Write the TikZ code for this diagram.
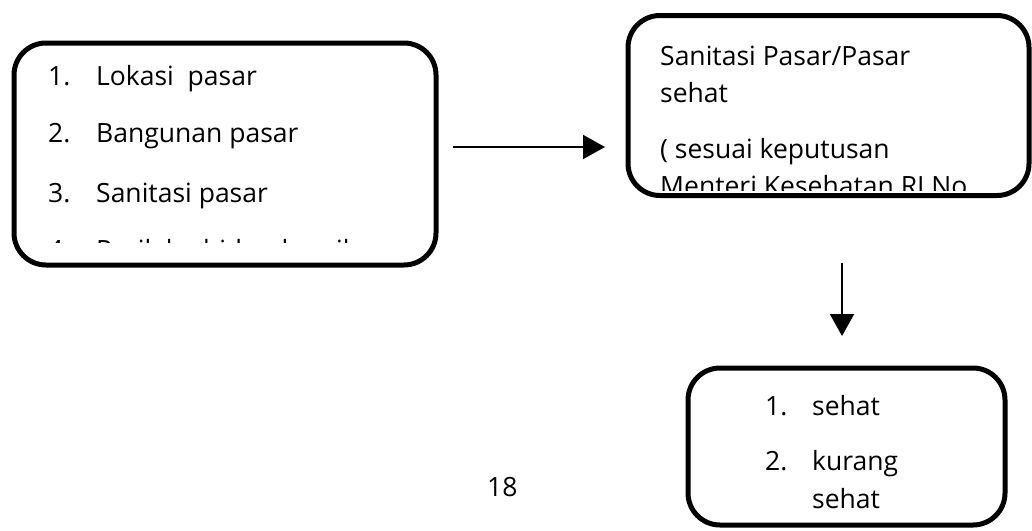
\documentclass[tikz,border=0pt]{standalone}
\usepackage{fontspec}
\setmainfont{Open Sans}
\usetikzlibrary{arrows.meta}
\begin{document}
\begin{tikzpicture}[x=1pt,y=-1pt,
  box/.style={draw, line width=5pt, rounded corners=32pt, inner sep=0pt},
  txt/.style={anchor=base west, inner sep=0pt, font=\fontsize{26.5}{30}\selectfont},
  arr/.style={line width=2pt, -{Triangle[length=22pt,width=24pt]}}]
\useasboundingbox (0,0) rectangle (1032,530);
% boxes
\node[box, minimum width=422pt, minimum height=222pt] (b1) at (225,154) {};
\node[box, minimum width=401pt, minimum height=180pt] (b2) at (828.5,105.5) {};
\node[box, minimum width=317pt, minimum height=157pt] (b3) at (846.5,446.5) {};
% box 1 text
\node[txt] (n11) at (48,85) {1.};
\node[txt] (t11) at (96,85) {Lokasi\ \ pasar};
\node[txt] (n12) at (48,142) {2.};
\node[txt] (t12) at (96,142) {Bangunan pasar};
\node[txt] (n13) at (48,202) {3.};
\node[txt] (t13) at (96,202) {Sanitasi pasar};
\begin{scope}
\clip (20,215) rectangle (430,242);
\node[txt] (n14) at (48,259.5) {4.};
\node[txt] (t14) at (96,259.5) {Perilaku hidup bersih};
\end{scope}
% box 2 text
\node[txt] (t21) at (660,65) {Sanitasi Pasar/Pasar};
\node[txt] (t22) at (660,102) {sehat};
\node[txt] (t23) at (660,158) {( sesuai keputusan};
\begin{scope}
\clip (640,120) rectangle (1020,190);
\node[txt] (t24) at (660,195) {Menteri Kesehatan RI No};
\end{scope}
% box 3 text
\node[txt] (n31) at (765,415) {1.};
\node[txt] (t31) at (812,415) {sehat};
\node[txt] (n32) at (765,470) {2.};
\node[txt] (t32) at (812,470) {kurang};
\node[txt] (t33) at (812,508) {sehat};
% page number
\node[txt] (pg) at (487,496) {18};
% arrows
\coordinate (a1s) at (453,147);
\coordinate (a1e) at (605,147);
\coordinate (a2s) at (842,263);
\coordinate (a2e) at (842,336);
\draw[arr] (a1s) -- (a1e);
\draw[arr] (a2s) -- (a2e);
\end{tikzpicture}
\end{document}
